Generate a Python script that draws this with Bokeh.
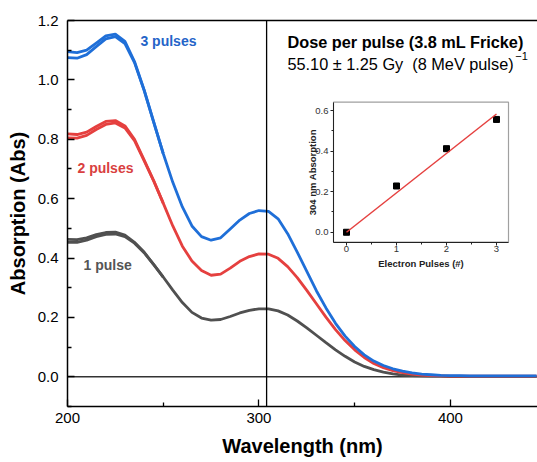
from bokeh.plotting import figure
from bokeh.models import Span, Label, LinearAxis, FixedTicker, Range1d, PrintfTickFormatter
from bokeh.embed import file_html
from bokeh.resources import INLINE
import numpy as np

# ---------------- data ----------------
wl = [200, 205, 210, 215, 220, 225, 230, 235, 240, 245,
      250, 255, 260, 265, 270, 275, 280, 285, 290, 295,
      300, 305, 310, 315, 320, 325, 330, 335, 340, 345,
      350, 355, 360, 365, 370, 375, 380, 385, 390, 395,
      400, 405, 410, 415, 420, 425, 430, 435, 440, 445]

blue_3 = [1.075, 1.073, 1.085, 1.112, 1.138, 1.146, 1.122, 1.058, 0.965, 0.858,
          0.752, 0.655, 0.572, 0.508, 0.472, 0.460, 0.468, 0.498, 0.528, 0.550,
          0.560, 0.557, 0.532, 0.482, 0.420, 0.355, 0.290, 0.232, 0.180, 0.137,
          0.102, 0.074, 0.053, 0.038, 0.027, 0.019, 0.013, 0.009, 0.007, 0.005,
          0.004, 0.004, 0.003, 0.003, 0.003, 0.003, 0.003, 0.003, 0.003, 0.003]

red_2 = [0.805, 0.804, 0.813, 0.833, 0.850, 0.855, 0.838, 0.795, 0.728, 0.660,
         0.585, 0.508, 0.440, 0.390, 0.358, 0.342, 0.346, 0.366, 0.389, 0.405,
         0.414, 0.413, 0.399, 0.371, 0.334, 0.291, 0.246, 0.201, 0.159, 0.122,
         0.091, 0.065, 0.045, 0.031, 0.021, 0.014, 0.009, 0.006, 0.004, 0.003,
         0.002, 0.002, 0.002, 0.002, 0.002, 0.002, 0.002, 0.002, 0.002, 0.002]

gray_1 = [0.453, 0.453, 0.460, 0.472, 0.480, 0.481, 0.472, 0.450, 0.418, 0.378,
          0.336, 0.292, 0.250, 0.217, 0.198, 0.191, 0.193, 0.203, 0.215, 0.224,
          0.229, 0.229, 0.222, 0.208, 0.188, 0.165, 0.140, 0.115, 0.091, 0.069,
          0.050, 0.035, 0.024, 0.016, 0.010, 0.006, 0.004, 0.003, 0.002, 0.002,
          0.001, 0.001, 0.001, 0.001, 0.001, 0.001, 0.001, 0.001, 0.001, 0.001]

# replicate scans (differ only at short wavelengths)
wl_rep = [200, 205, 210, 215, 220, 225, 230, 235, 240, 245, 250]
blue_3_rep = [1.095, 1.092, 1.100, 1.124, 1.148, 1.154, 1.130, 1.062, 0.967, 0.859, 0.752]
red_2_rep = [0.818, 0.816, 0.824, 0.843, 0.860, 0.863, 0.845, 0.800, 0.731, 0.661, 0.585]
gray_1_rep = [0.463, 0.462, 0.468, 0.479, 0.486, 0.487, 0.477, 0.453, 0.420, 0.379, 0.336]

marker_wl = 304

# inset data
pulses = [0, 1, 2, 3]
abs304 = [0.0, 0.228, 0.412, 0.556]

x_ticks = [200, 300, 400]
x_minor = [250, 350]
y_ticks = [0.0, 0.2, 0.4, 0.6, 0.8, 1.0, 1.2]
y_minor = [-0.1, 0.1, 0.3, 0.5, 0.7, 0.9, 1.1]
inset_x_ticks = [0, 1, 2, 3]
inset_x_minor = [0.5, 1.5, 2.5]
inset_y_ticks = [0.0, 0.2, 0.4, 0.6]
inset_y_minor = [0.1, 0.3, 0.5]

BLUE = "#1f6fd8"
RED = "#e5403f"
GRAY = "#505050"
FONT = "Liberation Sans"

# ---------------- layout geometry (pixels) ----------------
W, H = 537, 462
FL, FR, FT, FB = 67, 537, 20, 406          # main frame
IL, IR, IT, IB = 333, 508, 101.7, 241.7    # inset frame
main_x = (200, 445.5)
main_y = (-0.1, 1.2)
inset_x = (-0.26, 3.24)
inset_y = (-0.049, 0.641)

# ---------------- main plot ----------------
p = figure(width=W, height=H, x_range=Range1d(*main_x), y_range=Range1d(*main_y),
           output_backend="svg", toolbar_location=None,
           min_border_left=FL, min_border_right=W - FR, min_border_top=FT, min_border_bottom=H - FB)
p.outline_line_color = None
p.xgrid.grid_line_color = None
p.ygrid.grid_line_color = None
p.background_fill_color = "white"
p.border_fill_color = "white"

for ax in (p.xaxis[0], p.yaxis[0]):
    ax.axis_line_color = "black"
    ax.axis_line_width = 1.5
    ax.major_tick_line_color = "black"
    ax.minor_tick_line_color = "black"
    ax.major_tick_line_width = 1.3
    ax.minor_tick_line_width = 1.3
    ax.major_tick_in = 7
    ax.major_tick_out = 0
    ax.minor_tick_in = 4
    ax.minor_tick_out = 0
    ax.major_label_text_font = FONT
    ax.major_label_text_font_size = "15px"
    ax.major_label_text_color = "black"
    ax.axis_label_text_font = FONT
    ax.axis_label_text_font_size = "20px"
    ax.axis_label_text_font_style = "bold"
    ax.axis_label_text_color = "black"

p.xaxis.ticker = FixedTicker(ticks=x_ticks, minor_ticks=x_minor)
p.yaxis.ticker = FixedTicker(ticks=y_ticks, minor_ticks=y_minor)
p.yaxis.formatter = PrintfTickFormatter(format="%.1f")
p.xaxis.axis_label = "Wavelength (nm)"
p.yaxis.axis_label = "Absorption (Abs)"
p.xaxis.major_label_standoff = 6
p.xaxis.axis_label_standoff = 9
p.yaxis.major_label_standoff = 9
p.yaxis.axis_label_standoff = 6

top_axis = LinearAxis(ticker=FixedTicker(ticks=[]), major_label_text_font_size="0px",
                      major_label_standoff=0,
                      major_tick_in=0, major_tick_out=0, minor_tick_in=0, minor_tick_out=0,
                      axis_line_width=1.5, axis_line_color="black")
p.add_layout(top_axis, "above")

p.add_layout(Span(location=0, dimension="width", line_color="#333333", line_width=1.5, level="underlay"))

p.line(wl_rep, gray_1_rep, line_color=GRAY, line_width=2.8)
p.line(wl, gray_1, line_color=GRAY, line_width=2.8)
p.line(wl_rep, red_2_rep, line_color=RED, line_width=2.8)
p.line(wl, red_2, line_color=RED, line_width=2.8)
p.line(wl_rep, blue_3_rep, line_color=BLUE, line_width=2.8)
p.line(wl, blue_3, line_color=BLUE, line_width=2.8)

p.add_layout(Span(location=marker_wl, dimension="height", line_color="black", line_width=1.3))

def lab(x, y, text, color, size="14px", style="bold", **kw):
    p.add_layout(Label(x=x, y=y, text=text, text_color=color, text_font=FONT,
                       text_font_size=size, text_font_style=style,
                       text_baseline="middle", text_align=kw.pop("align", "left"), **kw))

lab(238.1, 1.130, "3 pulses", "#2464c8")
lab(205.2, 0.702, "2 pulses", "#d94040")
lab(208.4, 0.375, "1 pulse", "#555555")
lab(314.9, 1.127, "Dose per pulse (3.8 mL Fricke)", "black", "16.3px", "bold")
lab(314.9, 1.055, "55.10 \u00b1 1.25 Gy\u00a0 (8 MeV pulse)", "black", "16.3px", "normal")
lab(433.9, 1.079, "\u22121", "black", "11px", "normal")

# ---------------- inset (own ranges mapped onto its box) ----------------
sx = (inset_x[1] - inset_x[0]) / (IR - IL)
sy = (inset_y[1] - inset_y[0]) / (IB - IT)
p.extra_x_ranges = {"ix": Range1d(inset_x[0] - (IL - FL) * sx, inset_x[1] + (FR - IR) * sx)}
p.extra_y_ranges = {"iy": Range1d(inset_y[0] - (FB - IB) * sy, inset_y[1] + (IT - FT) * sy)}

p.quad(left=[inset_x[0]], right=[inset_x[1]], bottom=[inset_y[0]], top=[inset_y[1]],
       x_range_name="ix", y_range_name="iy",
       fill_color="white", line_color="#a0a0a0", line_width=1.2)

def inset_axis(**kw):
    ax = LinearAxis(x_range_name="ix", y_range_name="iy", **kw)
    ax.axis_line_color = "#222222"
    ax.axis_line_width = 1
    ax.major_tick_line_color = "#222222"
    ax.minor_tick_line_color = "#222222"
    ax.major_tick_in = 0
    ax.major_tick_out = 3
    ax.minor_tick_in = 0
    ax.minor_tick_out = 2
    ax.major_label_text_font = FONT
    ax.major_label_text_font_size = "9.5px"
    ax.major_label_text_color = "#333333"
    return ax

iax = inset_axis(fixed_location=inset_y[0], bounds=inset_x,
                 ticker=FixedTicker(ticks=inset_x_ticks, minor_ticks=inset_x_minor),
                 major_label_standoff=1)
p.add_layout(iax, "below")
iay = inset_axis(fixed_location=inset_x[0], bounds=inset_y,
                 ticker=FixedTicker(ticks=inset_y_ticks, minor_ticks=inset_y_minor),
                 formatter=PrintfTickFormatter(format="%.1f"), major_label_standoff=2)
p.add_layout(iay, "left")

p.scatter(pulses, abs304, marker="square", size=6, color="black", x_range_name="ix", y_range_name="iy")
xp = np.array(pulses, dtype=float)
yp = np.array(abs304, dtype=float)
slope = float((xp * yp).sum() / (xp * xp).sum())
p.line([xp.min(), xp.max()], [slope * xp.min(), slope * xp.max()], line_color=RED, line_width=1.5,
       x_range_name="ix", y_range_name="iy")

# inset axis titles
p.add_layout(Label(x=(inset_x[0] + inset_x[1]) / 2, y=inset_y[0] - 21.6 * sy, text="Electron Pulses (#)",
                   x_range_name="ix", y_range_name="iy", text_font=FONT, text_font_size="9.5px",
                   text_font_style="bold", text_color="#222222", text_align="center", text_baseline="middle"))
p.add_layout(Label(x=inset_x[0] - 21.3 * sx, y=(inset_y[0] + inset_y[1]) / 2, text="304 nm Absorption",
                   x_range_name="ix", y_range_name="iy", text_font=FONT, text_font_size="9.5px",
                   text_font_style="bold", text_color="#222222", text_align="center", text_baseline="middle",
                   angle=90, angle_units="deg"))

open("out.html", "w").write(file_html(p, INLINE))
